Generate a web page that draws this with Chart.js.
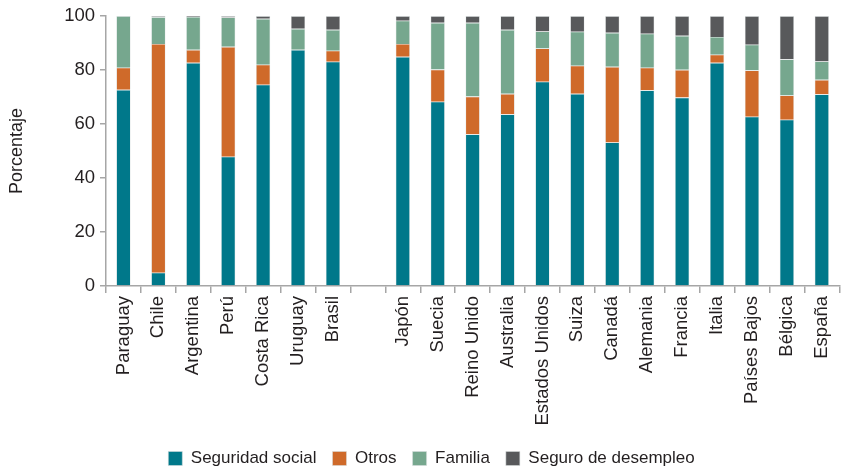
<!DOCTYPE html>
<html>
<head>
<meta charset="utf-8">
<script src="https://cdn.jsdelivr.net/npm/chart.js@4/dist/chart.umd.min.js"></script>
<style>
  html, body { margin: 0; padding: 0; background: #fff; }
  #wrap { width: 847px; height: 471px; position: relative; }
</style>
</head>
<body>
<div id="wrap"><canvas id="c" width="847" height="471"></canvas></div>
<script>
const categories = ["Paraguay", "Chile", "Argentina", "Perú", "Costa Rica", "Uruguay", "Brasil", "",
  "Japón", "Suecia", "Reino Unido", "Australia", "Estados Unidos", "Suiza", "Canadá", "Alemania",
  "Francia", "Italia", "Países Bajos", "Bélgica", "España"];
const seguridadSocial = [72.7, 4.9, 82.7, 47.9, 74.6, 87.5, 83.1, null,
  84.9, 68.3, 56.2, 63.6, 75.7, 71.2, 53.2, 72.5, 69.8, 82.7, 62.7, 61.6, 71.0];
const otros = [8.2, 84.8, 4.8, 40.7, 7.4, 0, 4.1, null,
  4.8, 11.9, 14.0, 7.6, 12.3, 10.4, 28.0, 8.4, 10.3, 3.0, 17.2, 9.0, 5.4];
const familia = [19.1, 9.9, 12.2, 10.9, 17.0, 7.8, 7.7, null,
  8.6, 17.3, 27.3, 23.7, 6.3, 12.6, 12.6, 12.6, 12.6, 6.6, 9.5, 13.4, 6.8];
const seguroDesempleo = [0, 0.4, 0.3, 0.5, 1.0, 4.7, 5.1, null,
  1.7, 2.5, 2.5, 5.1, 5.7, 5.8, 6.2, 6.5, 7.3, 7.7, 10.6, 16.0, 16.8];
const yTicks = [0, 20, 40, 60, 80, 100];

const FONT = "'Liberation Sans', Arial, Helvetica, sans-serif";
const TXT = '#231f20';
const AXIS = '#a6a6a6';

const mk = (label, data, color) => ({
  label, data, backgroundColor: color,
  borderColor: 'rgba(215,222,222,0.9)', borderWidth: 0.6,
  categoryPercentage: 1.0, barPercentage: 0.41
});

const legendShift = {
  id: 'legendShift',
  afterLayout(chart) {
    const lg = chart.legend;
    if (!lg) return;
    lg.top += 6; lg.bottom += 6;
    lg.left += 8; lg.right += 8;
  }
};

new Chart(document.getElementById('c'), {
  type: 'bar',
  data: {
    labels: categories,
    datasets: [
      mk('Seguridad social', seguridadSocial, '#00788a'),
      mk('Otros', otros, '#cf6a2a'),
      mk('Familia', familia, '#76a78e'),
      mk('Seguro de desempleo', seguroDesempleo, '#58595b')
    ]
  },
  plugins: [legendShift],
  options: {
    responsive: false,
    animation: false,
    layout: { padding: { top: 9, right: 0, left: 0, bottom: 0 } },
    plugins: {
      tooltip: { enabled: false },
      legend: {
        position: 'bottom',
        labels: {
          boxWidth: 14, boxHeight: 14, padding: 16,
          color: TXT, font: { family: FONT, size: 17 }
        }
      }
    },
    scales: {
      x: {
        stacked: true,
        grid: { offset: true, drawOnChartArea: false, drawTicks: true, tickLength: 7, color: AXIS, lineWidth: 1.5 },
        border: { color: AXIS, width: 1.5 },
        ticks: { color: TXT, font: { family: FONT, size: 18.5 }, maxRotation: 90, minRotation: 90, autoSkip: false, padding: 3 },
        afterFit: s => { s.height = 142; }
      },
      y: {
        stacked: true,
        min: 0, max: 100,
        afterBuildTicks: s => { s.ticks = yTicks.map(v => ({ value: v })); },
        grid: { drawOnChartArea: false, drawTicks: true, tickLength: 6, color: AXIS, lineWidth: 1.5 },
        border: { color: AXIS, width: 1.5 },
        ticks: { color: TXT, font: { family: FONT, size: 18.5 }, padding: 5 },
        title: { display: true, text: 'Porcentaje', color: TXT, font: { family: FONT, size: 18 }, padding: { top: 6, bottom: 10 } },
        afterFit: s => { s.width = 106; }
      }
    }
  }
});
</script>
</body>
</html>
